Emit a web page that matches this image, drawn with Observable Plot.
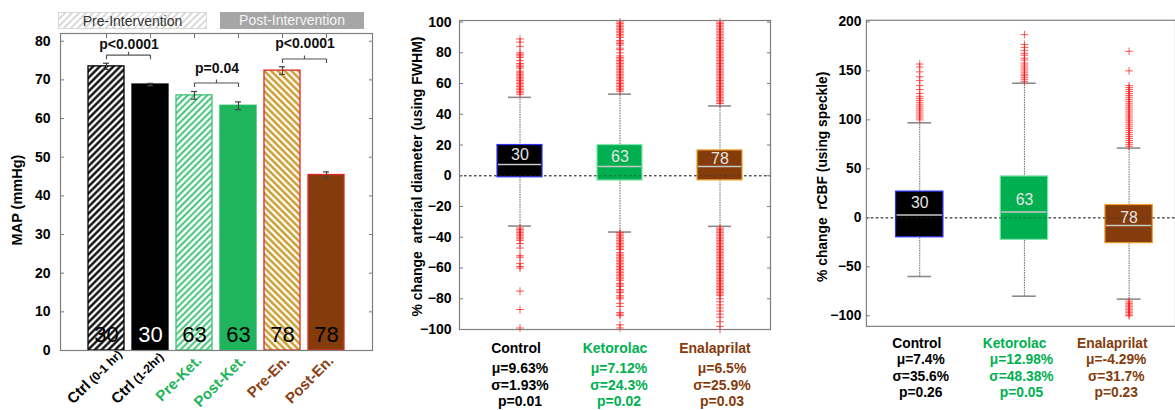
<!DOCTYPE html>
<html><head><meta charset="utf-8">
<script src="https://cdn.jsdelivr.net/npm/d3@7"></script>
<script src="https://cdn.jsdelivr.net/npm/@observablehq/plot@0.6"></script>
<style>
body{margin:0;background:#fff;overflow:hidden;font-family:"Liberation Sans",Arial,sans-serif;}
#wrap{position:relative;width:1175px;height:410px;overflow:hidden;background:#fff;}
.panel{position:absolute;top:0;}
.legend{position:absolute;top:12px;height:17px;font-size:14px;line-height:17px;text-align:center;z-index:5;box-sizing:border-box;}
#lgPre{left:58px;width:149px;color:#333;border:1px solid #d8d8d8;background:repeating-linear-gradient(135deg,#ffffff 0 3px,#dcdcdc 3px 5px);}
#lgPost{left:220px;width:144px;color:#f4f4f4;background:#a6a6a6;}
</style></head><body>
<div id="wrap">
  <div class="panel" id="p1" style="left:0px"></div>
  <div class="panel" id="p2" style="left:380px"></div>
  <div class="panel" id="p3" style="left:780px"></div>
  <div class="legend" id="lgPre"></div>
  <div class="legend" id="lgPost"></div>
</div>
<script>
// ---------------- DATA ----------------
// Panel 1: MAP bars
const mapGroups = ["Ctrl (0-1 hr)", "Ctrl (1-2hr)", "Pre-Ket.", "Post-Ket.", "Pre-En.", "Post-En."];
const mapMain = ["Ctrl", "Ctrl", "Pre-Ket.", "Post-Ket.", "Pre-En.", "Post-En."];
const mapSub = ["(0-1 hr)", "(1-2hr)", "", "", "", ""];
const mapMean = [73.5, 68.8, 66.0, 63.3, 72.4, 45.4];
const mapErr = [0.8, 0.3, 1.0, 1.0, 1.0, 0.8];
const mapN = [30, 30, 63, 63, 78, 78];
const mapYTicks = [0, 10, 20, 30, 40, 50, 60, 70, 80];
const mapYLabel = "MAP (mmHg)";
const pairA = ["Ctrl (0-1 hr)", "Pre-Ket.", "Pre-En."];
const pairB = ["Ctrl (1-2hr)", "Post-Ket.", "Post-En."];
const pairText = ["p<0.0001", "p=0.04", "p<0.0001"];
const pairLevel = [76.4, 69.2, 75.4];
const pairTextLevel = [78.0, 71.8, 78.2];
const legendLabels = ["Pre-Intervention", "Post-Intervention"];

// Panels 2 & 3: box plots
const groupNames = ["Control", "Ketorolac", "Enalaprilat"];
const groupN = [30, 63, 78];

const diamQ1 = [-1, -3.1, -3];
const diamMedian = [7.3, 6, 6];
const diamQ3 = [20, 20, 16.5];
const diamWhiskLow = [-32.7, -36.6, -32.9];
const diamWhiskHigh = [51, 53.1, 45.4];
const diamNLabelY = [13.9, 12.3, 11.2];
const diamMu = ["μ=9.63%", "μ=7.12%", "μ=6.5%"];
const diamSigma = ["σ=1.93%", "σ=24.3%", "σ=25.9%"];
const diamP = ["p=0.01", "p=0.02", "p=0.03"];
const diamTicks = [-100, -80, -60, -40, -20, 0, 20, 40, 60, 80, 100];
const diamYLabel = "% change\u00a0 arterial diameter (using FWHM)";
const diamOutControl = [89, 87, 84, 80, 79, 78, 77, 75, 73, 72, 71, 70, 68, 67, 66, 65, 64, 63, 62, 61, 60, 59, 58, 57, 56, 55, 54, 53,
  -34, -35, -36, -37, -38, -39, -40, -41, -42, -44, -47, -52, -53, -57, -59, -60, -75, -87, -99];
const diamOutKetorolac = [100, 99, 98, 97, 96, 95, 94, 93, 92, 91, 90, 88, 87, 86, 85, 83, 82, 80, 78, 77, 76, 75, 74, 73, 72, 71, 70, 69, 68, 67, 66, 65, 64, 63, 62, 61, 60, 59, 58, 57, 56, 55,
  -37, -38, -39, -40, -41, -42, -43, -44, -45, -46, -47, -48, -50, -51, -52, -53, -54, -55, -56, -57, -58, -59, -60, -61, -62, -63, -64, -65, -66, -67, -68, -70, -71, -72, -74, -75, -76, -78, -79, -80, -83, -85, -89, -90, -91, -97, -99];
const diamOutEnalaprilat = [100, 99, 98, 97, 96, 95, 94, 93, 92, 91, 90, 89, 88, 87, 86, 85, 84, 83, 82, 81, 80, 79, 78, 77, 76, 75, 74, 73, 72, 71, 70, 69, 68, 67, 66, 65, 64, 63, 62, 61, 60, 59, 58, 57, 56, 55, 54, 53, 52, 51, 50, 49, 48, 47,
  -34, -35, -36, -37, -38, -39, -40, -41, -42, -43, -44, -45, -46, -47, -48, -49, -50, -51, -52, -53, -54, -55, -56, -57, -58, -59, -60, -61, -62, -63, -64, -65, -66, -67, -68, -69, -70, -71, -72, -73, -74, -75, -76, -77, -78, -80, -82, -84, -86, -88, -90, -92, -95, -98, -100];

const cbfQ1 = [-19.9, -22.5, -25.9];
const cbfMedian = [3.0, 6.0, -7.8];
const cbfQ3 = [26.8, 42.3, 13.1];
const cbfWhiskLow = [-59.9, -80, -83];
const cbfWhiskHigh = [97, 137.4, 71.2];
const cbfNLabelY = [15.1, 18.4, 0.3];
const cbfMu = ["μ=7.4%", "μ=12.98%", "μ=-4.29%"];
const cbfSigma = ["σ=35.6%", "σ=48.38%", "σ=31.7%"];
const cbfP = ["p=0.26", "p=0.05", "p=0.23"];
const cbfTicks = [-100, -50, 0, 50, 100, 150, 200];
const cbfYLabel = "% change\u00a0 rCBF (using speckle)";
const cbfOutControl = [157, 154, 149, 144, 140, 135, 131, 127, 124, 122, 120, 118, 116, 114, 112, 110, 108, 106, 104, 102, 100];
const cbfOutKetorolac = [187, 177, 174, 171, 168, 166, 163, 161, 158, 156, 154, 152, 150, 148, 146, 145, 143, 141, 139];
const cbfOutEnalaprilat = [170, 150, 135, 133, 131, 129, 127, 125, 123, 121, 119, 117, 115, 113, 111, 109, 107, 105, 103, 101, 99, 97, 95, 93, 91, 89, 87, 85, 83, 81, 79, 77, 75, 73,
  -85, -87, -88, -90, -91, -93, -94, -96, -97, -99, -100];

// ---------------- STYLES ----------------
const FONT = "'Liberation Sans', Arial, Helvetica, sans-serif";
const GREEN = "#1fb55c", BROWN = "#843c0c";
const barStyle = {
  "Ctrl (0-1 hr)": {fill: "url(#hatchBlack)", stroke: "#000000", num: "#000000", label: "#000000"},
  "Ctrl (1-2hr)": {fill: "#000000", stroke: "#000000", num: "#ffffff", label: "#000000"},
  "Pre-Ket.": {fill: "url(#hatchGreen)", stroke: "#3cc474", num: "#000000", label: GREEN},
  "Post-Ket.": {fill: GREEN, stroke: GREEN, num: "#000000", label: GREEN},
  "Pre-En.": {fill: "url(#hatchGold)", stroke: "#e02828", num: "#000000", label: "#8b4216"},
  "Post-En.": {fill: BROWN, stroke: "#e02828", num: "#000000", label: "#8b4216"}
};
const boxFill = ["#000000", "#00b050", "#843c0c"];
const boxStroke = ["#3232ff", "#86e2ac", "#f0a030"];
const groupTextColor = ["#000000", "#00b050", "#843c0c"];

document.getElementById("lgPre").textContent = legendLabels[0];
document.getElementById("lgPost").textContent = legendLabels[1];

function hatchDefs() {
  const g = d3.create("svg:defs");
  const mk = (id, color, angle, w, size) => {
    const p = g.append("pattern").attr("id", id).attr("patternUnits", "userSpaceOnUse")
      .attr("width", size).attr("height", size).attr("patternTransform", `rotate(${angle})`);
    p.append("rect").attr("width", size).attr("height", size).attr("fill", "#fff");
    p.append("line").attr("x1", size / 2).attr("x2", size / 2).attr("y1", 0).attr("y2", size)
      .attr("stroke", color).attr("stroke-width", w);
  };
  mk("hatchBlack", "#000", 45, 2.3, 4.8);
  mk("hatchGreen", "#2cbc68", 45, 1.8, 4.6);
  mk("hatchGold", "#c8961e", -45, 2.3, 4.8);
  return g.node();
}

function bracketCurve(context) {
  let pts = [];
  return {
    areaStart() {}, areaEnd() {},
    lineStart() { pts = []; },
    point(x, y) { pts.push([x, y]); },
    lineEnd() {
      const [[x1, y1], [x2, y2]] = pts;
      const mx = (x1 + x2) / 2;
      context.moveTo(x1, y1 + 4); context.lineTo(x1, y1); context.lineTo(x2, y2); context.lineTo(x2, y2 + 4);
      context.moveTo(mx, y1); context.lineTo(mx, y1 - 3.5);
    }
  };
}

// ---------------- PANEL 1 ----------------
const p1Data = mapGroups.map((g, i) => ({g, mean: mapMean[i], err: mapErr[i], n: mapN[i], main: mapMain[i], sub: mapSub[i]}));
const pairs = pairA.map((a, i) => ({a, b: pairB[i], text: pairText[i], y: pairLevel[i], ty: pairTextLevel[i]}));

const p1 = Plot.plot({
  width: 380, height: 410, marginLeft: 60, marginRight: 8, marginTop: 33, marginBottom: 60,
  style: {fontFamily: FONT, fontSize: "14px", fontWeight: "bold", color: "#000", background: "transparent"},
  x: {type: "band", domain: mapGroups, paddingInner: 0.178, paddingOuter: 0.556, align: 0.5, axis: null},
  y: {domain: [0, 82], axis: null},
  color: {type: "identity"},
  marks: [
    hatchDefs,
    Plot.barY(p1Data, {x: "g", y: "mean", fill: d => barStyle[d.g].fill, stroke: d => barStyle[d.g].stroke, strokeWidth: 1.3}),
    Plot.ruleX(p1Data, {x: "g", y1: d => d.mean - d.err, y2: d => d.mean + d.err, stroke: "#444", strokeWidth: 1.2}),
    Plot.tickY(p1Data, {x: "g", y: d => d.mean + d.err, insetLeft: 15, insetRight: 15, stroke: "#444", strokeWidth: 1.2}),
    Plot.tickY(p1Data, {x: "g", y: d => d.mean - d.err, insetLeft: 15, insetRight: 15, stroke: "#444", strokeWidth: 1.2}),
    Plot.text(p1Data, {x: "g", y: 0, text: d => String(d.n), fill: d => barStyle[d.g].num, fontSize: 22, fontWeight: "normal", lineAnchor: "bottom", dy: -9}),
    Plot.link(pairs, {x1: "a", x2: "b", y1: "y", y2: "y", curve: bracketCurve, stroke: "#555", strokeWidth: 1.2}),
    Plot.text(pairs, {x: "a", y: "ty", text: "text", dx: 22.5, lineAnchor: "bottom", fontSize: 14, fill: "#111"}),
    Plot.text(p1Data.filter(d => !d.sub), {x: "g", y: 0, text: "main", rotate: -45, textAnchor: "end", lineAnchor: "bottom", dx: 8, dy: 11, fontSize: 15, fill: d => barStyle[d.g].label}),
    Plot.text(p1Data.filter(d => d.sub), {x: "g", y: 0, text: "main", rotate: -45, textAnchor: "end", lineAnchor: "bottom", dx: -15, dy: 36, fontSize: 15, fill: "#000"}),
    Plot.text(p1Data.filter(d => d.sub), {x: "g", y: 0, text: "sub", rotate: -45, textAnchor: "start", lineAnchor: "bottom", dx: -12.5, dy: 33.5, fontSize: 12, fill: "#000"}),
    Plot.axisY({ticks: mapYTicks, tickSize: 0, tickPadding: 10, fontSize: 14, label: null}),
    Plot.text([mapYLabel], {frameAnchor: "left", text: d => d, rotate: -90, textAnchor: "middle", lineAnchor: "middle", dx: -43, dy: 8, fontSize: 14.5, fill: "#000"}),
    Plot.axisY({anchor: "left", ticks: mapYTicks, tickSize: -4, tickFormat: () => "", label: null, stroke: "#777"}),
    Plot.axisY({anchor: "right", ticks: mapYTicks, tickSize: -4, tickFormat: () => "", label: null, stroke: "#777"}),
    Plot.axisX({anchor: "top", tickSize: -4, tickFormat: () => "", label: null, stroke: "#777"}),
    Plot.frame({stroke: "#7f7f7f", strokeWidth: 1.2})
  ]
});
document.getElementById("p1").append(p1);

// ---------------- BOX PANELS ----------------
function boxPanel(cfg) {
  const data = groupNames.map((g, i) => ({
    g, i, q1: cfg.q1[i], med: cfg.med[i], q3: cfg.q3[i], lo: cfg.lo[i], hi: cfg.hi[i],
    n: groupN[i], ny: cfg.nY[i], mu: cfg.mu[i], sigma: cfg.sigma[i], p: cfg.p[i]
  }));
  const outs = cfg.outliers.flatMap((arr, i) => arr.map(v => ({g: groupNames[i], v})));
  const labelMarks = [];
  data.forEach((d, i) => {
    labelMarks.push(Plot.text([d], {x: "g", frameAnchor: "bottom", text: "g", dy: cfg.lineDy[0], dx: cfg.nameDx[i], lineAnchor: "bottom", fontSize: 14, fill: groupTextColor[i]}));
    ["mu", "sigma", "p"].forEach((k, j) => {
      labelMarks.push(Plot.text([d], {x: "g", frameAnchor: "bottom", text: k, dy: cfg.lineDy[j + 1], dx: cfg.statDx[i], lineAnchor: "bottom", fontSize: 14, fill: groupTextColor[i]}));
    });
  });
  const extraAxes = cfg.rightTicks ? [Plot.axisY({anchor: "right", ticks: cfg.ticks, tickSize: -4, tickFormat: () => "", label: null, stroke: "#777"})] : [];
  return Plot.plot({
    width: cfg.width, height: 410, marginLeft: cfg.marginLeft, marginRight: cfg.marginRight, marginTop: 20, marginBottom: cfg.marginBottom,
    style: {fontFamily: FONT, fontSize: "14px", fontWeight: "bold", color: "#000", background: "transparent"},
    x: {type: "band", domain: groupNames, paddingInner: cfg.pi, paddingOuter: cfg.po, align: cfg.align, axis: null},
    y: {domain: cfg.domain, axis: null},
    color: {type: "identity"},
    marks: [
      Plot.ruleY([0], {stroke: "#333", strokeDasharray: "2.5,2.5", strokeWidth: 1}),
      Plot.ruleX(data, {x: "g", y1: "lo", y2: "hi", stroke: "#666", strokeDasharray: "1.5,1", strokeWidth: 1}),
      Plot.tickY(data, {x: "g", y: "lo", insetLeft: cfg.capInset, insetRight: cfg.capInset, stroke: "#8a8a8a", strokeWidth: 1.6}),
      Plot.tickY(data, {x: "g", y: "hi", insetLeft: cfg.capInset, insetRight: cfg.capInset, stroke: "#8a8a8a", strokeWidth: 1.6}),
      Plot.dot(outs, {x: "g", y: "v", symbol: "plus", r: 2.6, stroke: "#ff1a1a", strokeWidth: 1, strokeOpacity: 0.75}),
      Plot.barY(data, {x: "g", y1: "q1", y2: "q3", fill: d => boxFill[d.i], stroke: d => boxStroke[d.i], strokeWidth: 1.2}),
      Plot.ruleY([0], {stroke: "#333", strokeDasharray: "2.5,2.5", strokeWidth: 1, strokeOpacity: 0.6}),
      Plot.tickY(data, {x: "g", y: "med", insetLeft: 1, insetRight: 1, stroke: "#c8c8c8", strokeWidth: 1.5}),
      Plot.text(data, {x: "g", y: "ny", text: d => String(d.n), fill: "#e4e4e4", fontSize: 16, fontWeight: "normal"}),
      ...labelMarks,
      Plot.axisY({ticks: cfg.ticks, tickSize: 0, tickPadding: cfg.tickPadding, fontSize: 14, label: null}),
      Plot.text([cfg.label], {frameAnchor: "left", text: d => d, rotate: -90, textAnchor: "middle", lineAnchor: "middle", dx: cfg.labelDx, dy: cfg.labelDy, fontSize: 14, fill: "#000"}),
      Plot.axisY({anchor: "left", ticks: cfg.ticks, tickSize: -4, tickFormat: () => "", label: null, stroke: "#777"}),
      ...extraAxes,
      Plot.frame({stroke: "#7f7f7f", strokeWidth: 1.2})
    ]
  });
}

const p2 = boxPanel({
  width: 400, marginLeft: 79, marginRight: 10, marginBottom: 81,
  pi: 0.552, po: 0.323, align: 0.57, capInset: 11,
  domain: [-100, 101], ticks: diamTicks, tickPadding: 8,
  label: diamYLabel, labelDx: -42, labelDy: 1.5,
  q1: diamQ1, med: diamMedian, q3: diamQ3, lo: diamWhiskLow, hi: diamWhiskHigh, nY: diamNLabelY,
  mu: diamMu, sigma: diamSigma, p: diamP,
  outliers: [diamOutControl, diamOutKetorolac, diamOutEnalaprilat],
  lineDy: [23, 43, 60, 76], nameDx: [-4, -5, -5], statDx: [0, -1, 2], rightTicks: true
});
document.getElementById("p2").append(p2);

const p3 = boxPanel({
  width: 400, marginLeft: 87, marginRight: 0, marginBottom: 80,
  pi: 0.549, po: 0.244, align: 0.558, capInset: 12,
  domain: [-110.8, 201.7], ticks: cbfTicks, tickPadding: 5,
  label: cbfYLabel, labelDx: -44, labelDy: 3.5,
  q1: cbfQ1, med: cbfMedian, q3: cbfQ3, lo: cbfWhiskLow, hi: cbfWhiskHigh, nY: cbfNLabelY,
  mu: cbfMu, sigma: cbfSigma, p: cbfP,
  outliers: [cbfOutControl, cbfOutKetorolac, cbfOutEnalaprilat],
  lineDy: [22, 38, 55, 72], nameDx: [-3, -10, -17], statDx: [1, -3, -13], rightTicks: false
});
document.getElementById("p3").append(p3);
</script>
</body></html>
